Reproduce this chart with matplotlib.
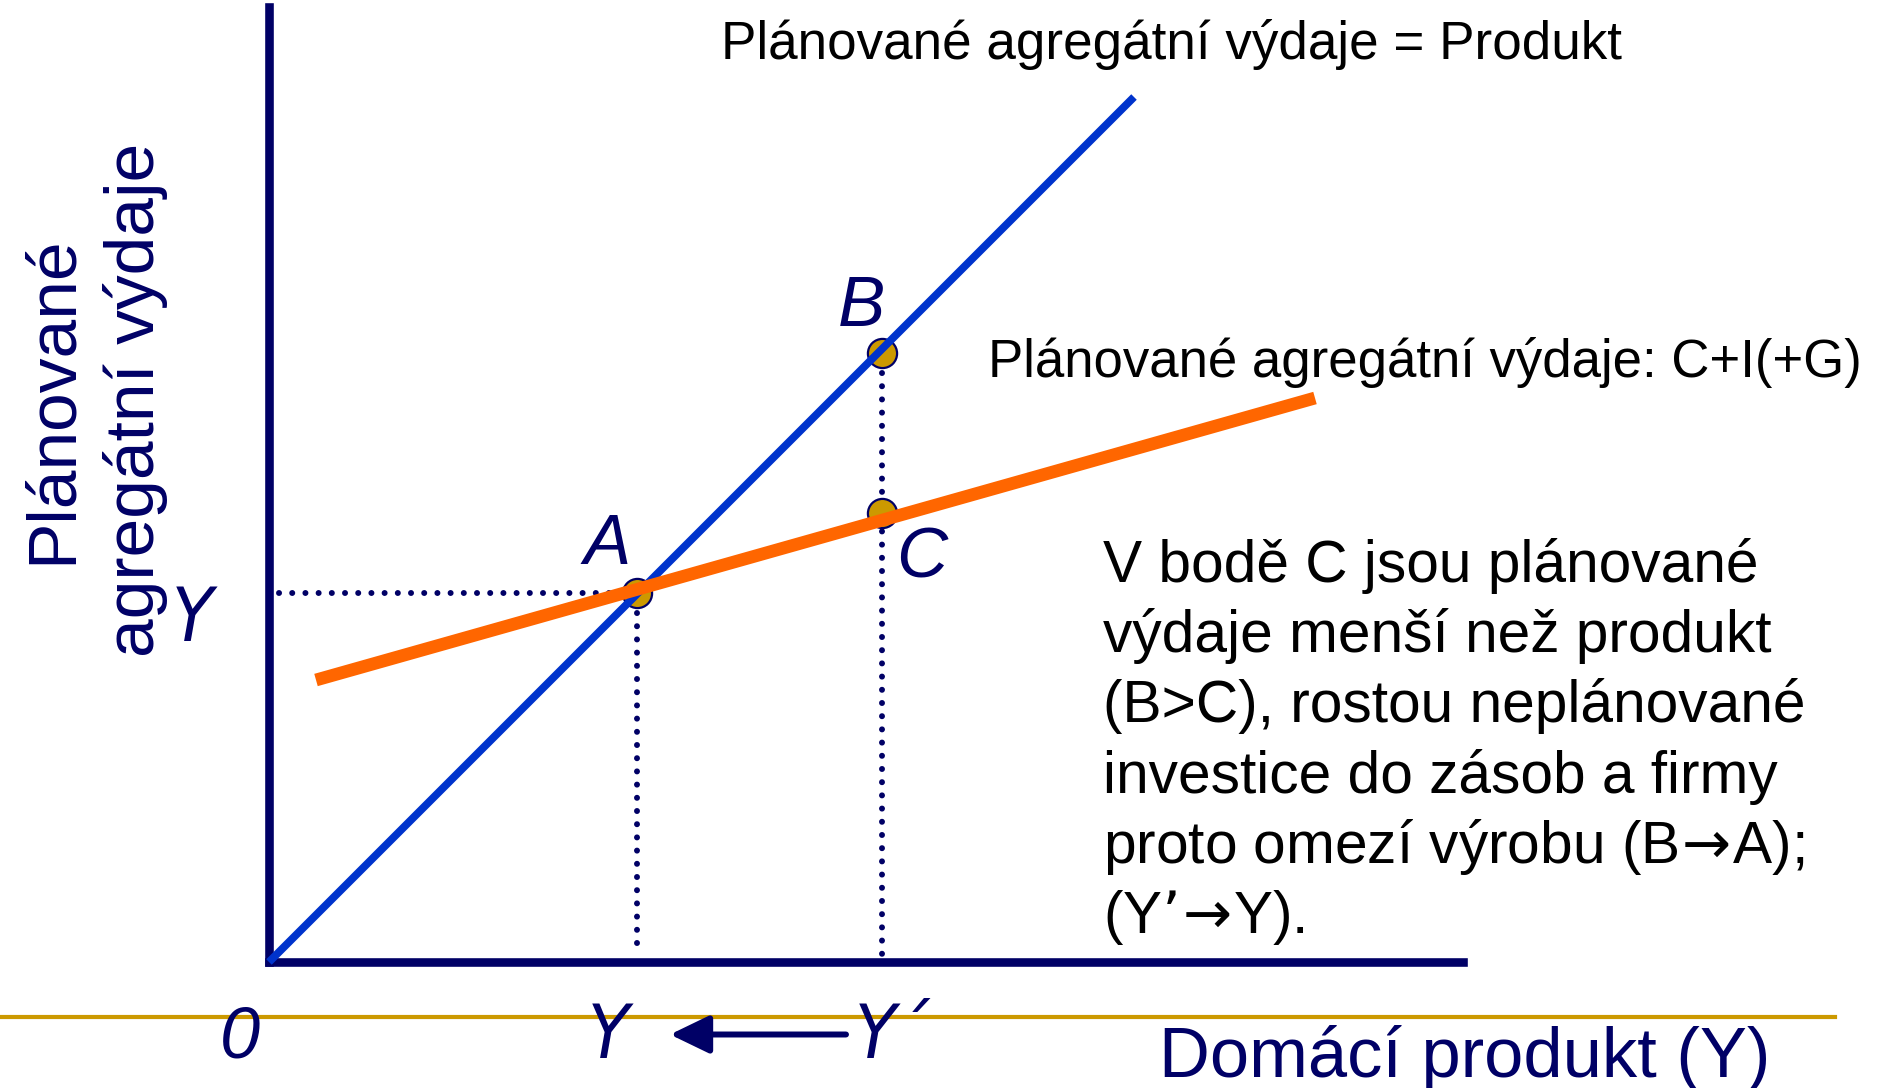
import matplotlib
matplotlib.use("Agg")
import matplotlib.pyplot as plt

NAVY = "#000066"
BLUE = "#0033CC"
ORANGE = "#FF6600"
GOLD = "#CC9900"

# chart values (economic units, origin at the axes corner)
blue_x = [0.0, 86.5]
blue_y = [0.0, 86.5]
orange_x = [4.7, 104.6]
orange_y = [28.2, 56.4]
point_names = ["A", "B", "C"]
point_x = [36.8, 61.3, 61.3]
point_y = [36.9, 60.9, 44.9]
y_eq = 36.9
x_eq = 36.8
x_prime = 61.3

title_line = "Plánované agregátní výdaje = Produkt"
ae_line = "Plánované agregátní výdaje: C+I(+G)"
x_label = "Domácí produkt (Y)"
y_label_lines = ["Plánované", "agregátní výdaje"]
note_lines = [
    "V bodě C jsou plánované",
    "výdaje menší než produkt",
    "(B>C), rostou neplánované",
    "investice do zásob a firmy",
    r"proto omezí výrobu (B$\!\rightarrow\!$A);",
    r"(Y’$\!\rightarrow\!$Y).",
]

plt.rcParams["mathtext.fontset"] = "dejavusans"
SANS = ["Liberation Sans", "DejaVu Sans"]
COND = dict(family=["DejaVu Sans"], fontstretch="condensed", style="italic")

fig = plt.figure(figsize=(18.84, 10.88), dpi=100)
ax = fig.add_axes([0, 0, 1, 1])
ax.set_xlim(-26.9, 161.5)
ax.set_ylim(-12.6, 96.2)
ax.axis("off")

# axes lines
ax.plot([0, 0], [0, 95.5], color=NAVY, lw=6.2, solid_capstyle="projecting")
ax.plot([0, 119.4], [0, 0], color=NAVY, lw=6.2, solid_capstyle="projecting")
ax.plot([-26.9, 156.6], [-5.45, -5.45], color=GOLD, lw=3)

# dotted guides
dots = dict(color=NAVY, lw=4.3, linestyle=(0, (0.01, 2.2)), dash_capstyle="round")
ax.plot([1.0, x_eq - 1.2], [y_eq, y_eq], **dots)
ax.plot([x_eq, x_eq], [y_eq - 2.0, 0.8], **dots)
ax.plot([x_prime, x_prime], [point_y[1] - 2.0, 0.8], **dots)

ax.plot(blue_x, blue_y, color=BLUE, lw=5.6, solid_capstyle="butt", zorder=4)
ax.plot(orange_x, orange_y, color=ORANGE, lw=9.2, solid_capstyle="butt", zorder=4)
ax.plot(point_x, point_y, "o", ms=21, mfc=GOLD, mec=NAVY, mew=1.6, zorder=3)

label_pos = {"A": (33.8, 41.6), "B": (59.2, 65.4), "C": (65.3, 40.3)}
for name in point_names:
    ax.text(*label_pos[name], name, color=NAVY, fontsize=51, style="italic",
            family=SANS, ha="center", va="center")

# axis annotations
for x, line in zip([-19.85, -11.5], y_label_lines):
    ax.text(x, 56.2, line, rotation=90, rotation_mode="anchor", color=NAVY,
            fontsize=50, family=SANS, ha="center", va="baseline")
ax.text(-7.7, 34.2, "Y", color=NAVY, fontsize=54, fontweight="light", **COND,
        ha="center", va="center")
ax.text(-2.9, -7.6, "0", color=NAVY, fontsize=52, style="italic", family=SANS,
        ha="center", va="center")
ax.text(33.9, -7.5, "Y", color=NAVY, fontsize=54, fontweight="light", **COND,
        ha="center", va="center")
ax.text(58.6, -7.5, "Y´", color=NAVY, fontsize=54, fontweight="light", **COND,
        ha="left", va="center")
ax.annotate("", xy=(40.1, -7.25), xytext=(57.7, -7.25),
            arrowprops=dict(arrowstyle="-|>,head_length=1.2,head_width=0.58",
                            mutation_scale=20, lw=4.3, color=NAVY,
                            shrinkA=0, shrinkB=0))
ax.text(89.0, -9.6, x_label, color=NAVY, fontsize=50.8, family=SANS,
        ha="left", va="center")

# curve labels and note
ax.text(45.2, 91.8, title_line, color="black", fontsize=38.2, family=SANS,
        ha="left", va="center")
ax.text(71.9, 60.0, ae_line, color="black", fontsize=38.0, family=SANS,
        ha="left", va="center")
for i, line in enumerate(note_lines):
    ax.text(83.4, 38.03 - 7.03 * i, line, color="black", fontsize=42.2, family=SANS,
            ha="left", va="baseline")

fig.savefig("out.png", dpi=100)
